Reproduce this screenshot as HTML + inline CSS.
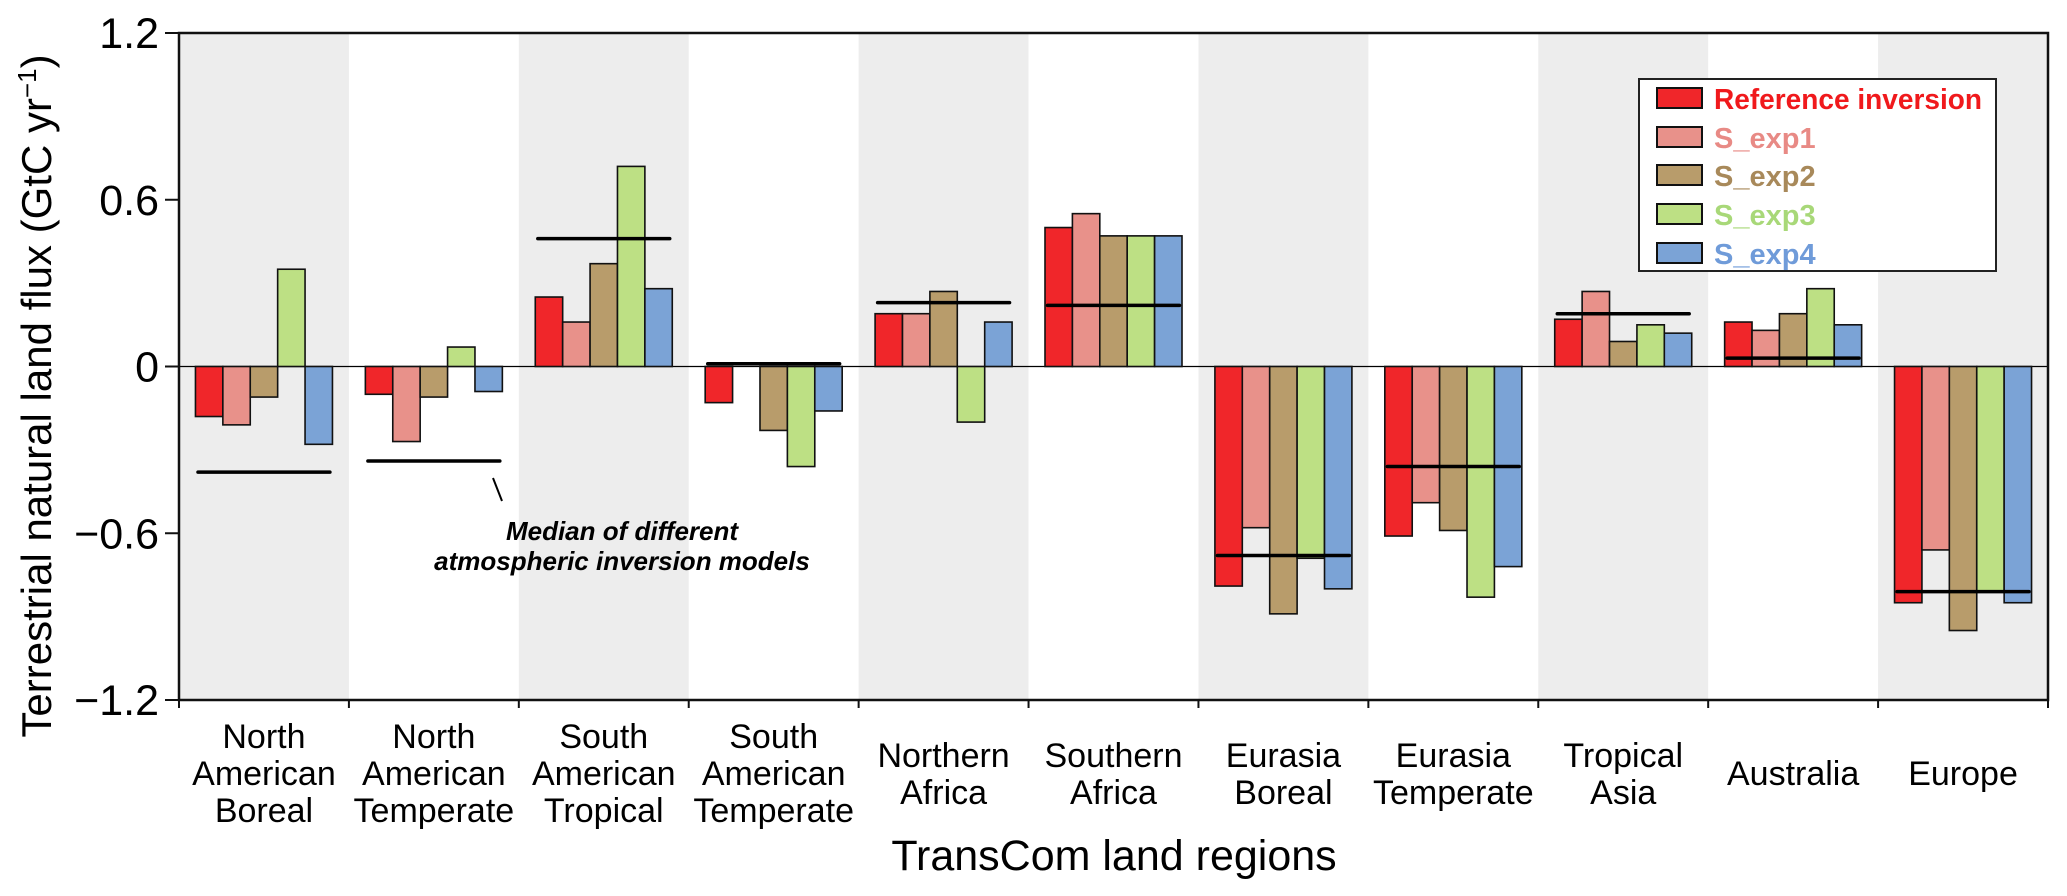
<!DOCTYPE html>
<html><head><meta charset="utf-8"><style>
html,body{margin:0;padding:0;background:#fff;}
svg{display:block;font-family:"Liberation Sans",Arial,sans-serif;}
</style></head><body>
<svg id="chart" width="2067" height="896" viewBox="0 0 2067 896" xmlns="http://www.w3.org/2000/svg"></svg>
<script>
const categories = [
  ["North","American","Boreal"],["North","American","Temperate"],["South","American","Tropical"],
  ["South","American","Temperate"],["Northern","Africa"],["Southern","Africa"],
  ["Eurasia","Boreal"],["Eurasia","Temperate"],["Tropical","Asia"],["Australia"],["Europe"]];
const seriesNames = ["Reference inversion","S_exp1","S_exp2","S_exp3","S_exp4"];
const refInversion = [-0.18,-0.10,0.25,-0.13,0.19,0.50,-0.79,-0.61,0.17,0.16,-0.85];
const sExp1 = [-0.21,-0.27,0.16,0.00,0.19,0.55,-0.58,-0.49,0.27,0.13,-0.66];
const sExp2 = [-0.11,-0.11,0.37,-0.23,0.27,0.47,-0.89,-0.59,0.09,0.19,-0.95];
const sExp3 = [0.35,0.07,0.72,-0.36,-0.20,0.47,-0.69,-0.83,0.15,0.28,-0.81];
const sExp4 = [-0.28,-0.09,0.28,-0.16,0.16,0.47,-0.80,-0.72,0.12,0.15,-0.85];
const medians = [-0.38,-0.34,0.46,0.01,0.23,0.22,-0.68,-0.36,0.19,0.03,-0.81];
const yTicks = [1.2,0.6,0,-0.6,-1.2];
const yTickLabels = ["1.2","0.6","0","\u22120.6","\u22121.2"];

const fills = ["#f0262a","#e8918a","#b89c6b","#bde084","#7ba3d6"];
const allSeries = [refInversion,sExp1,sExp2,sExp3,sExp4];
const X0=179, X1=2048, Y_TOP=33, Y_BOT=700, VMAX=1.2, VMIN=-1.2;
const bandW=(X1-X0)/categories.length, barW=27.4;
function y(v){return Y_TOP+(VMAX-v)/(VMAX-VMIN)*(Y_BOT-Y_TOP);}
function xBand(i){return X0+i*bandW;}
const svg=document.getElementById('chart');
const NS="http://www.w3.org/2000/svg";
function el(tag,attrs,parent){const e=document.createElementNS(NS,tag);for(const k in attrs)e.setAttribute(k,attrs[k]);(parent||svg).appendChild(e);return e;}

categories.forEach((c,i)=>{ if(i%2===0){
  const r=el('rect',{x:xBand(i),y:Y_TOP,width:bandW,height:Y_BOT-Y_TOP,fill:'#ededed'});
  
  
}});
const z=el('line',{x1:X0,x2:X1,y1:y(0),y2:y(0),stroke:'#000','stroke-width':1.3});


allSeries.forEach((s,si)=>{
  s.forEach((v,i)=>{
    const bx=xBand(i)+(bandW-5*barW)/2+si*barW;
    const y0=y(Math.max(v,0)), h=Math.abs(y(v)-y(0));
    const r=el('rect',{x:bx,y:y0,width:barW,height:h,fill:fills[si],stroke:'#111','stroke-width':1.6});
    
    
  });
});
medians.forEach((m,i)=>{
  const l=el('line',{x1:xBand(i)+19,x2:xBand(i)+bandW-19,y1:y(m),y2:y(m),stroke:'#000','stroke-width':3.5,'stroke-linecap':'round'});
  
  
});
const f=el('rect',{x:X0,y:Y_TOP,width:X1-X0,height:Y_BOT-Y_TOP,fill:'none',stroke:'#111','stroke-width':2.5});


yTicks.forEach((t,i)=>{
  el('line',{x1:X0-14,x2:X0,y1:y(t),y2:y(t),stroke:'#111','stroke-width':2});
  const tx=el('text',{x:X0-20,y:y(t)+15,'font-size':43,'text-anchor':'end',fill:'#000'});
  tx.textContent=yTickLabels[i];
  
  
});
for(let i=0;i<=categories.length;i++){
  el('line',{x1:xBand(i),x2:xBand(i),y1:Y_BOT,y2:Y_BOT+8,stroke:'#111','stroke-width':2});
}
categories.forEach((c,i)=>{
  const t=el('text',{x:xBand(i)+bandW/2,'font-size':34,'text-anchor':'middle',fill:'#000'});
  
  
  const base = c.length===3?748:(c.length===2?767:785);
  c.forEach((w,k)=>{const ts=el('tspan',{x:xBand(i)+bandW/2,y:base+k*37},t);ts.textContent=w;});
});
</script>
<svg style="position:absolute;left:0;top:0" width="2067" height="896" xmlns="http://www.w3.org/2000/svg" font-family="'Liberation Sans',Arial,sans-serif">
  <text transform="translate(51,396) rotate(-90)" font-size="42" text-anchor="middle" fill="#000">Terrestrial natural land flux (GtC yr<tspan dy="-15" font-size="26">−1</tspan><tspan dy="15">)</tspan></text>
  <text x="1114" y="870" font-size="43" text-anchor="middle" fill="#000">TransCom land regions</text>
  <g>
    <line x1="493" y1="478" x2="502" y2="501" stroke="#000" stroke-width="2"/>
    <text x="622" y="540" font-size="26" font-weight="bold" font-style="italic" text-anchor="middle">Median of different</text>
    <text x="622" y="570" font-size="26" font-weight="bold" font-style="italic" text-anchor="middle">atmospheric inversion models</text>
  </g>
  <g>
    <rect x="1639" y="79" width="357" height="192" fill="#fff" stroke="#222" stroke-width="2"/>
    <rect x="1657" y="88" width="45" height="20" fill="#f0262a" stroke="#111" stroke-width="2"/>
    <rect x="1657" y="127" width="45" height="20" fill="#e8918a" stroke="#111" stroke-width="2"/>
    <rect x="1657" y="165" width="45" height="20" fill="#b89c6b" stroke="#111" stroke-width="2"/>
    <rect x="1657" y="204" width="45" height="20" fill="#bde084" stroke="#111" stroke-width="2"/>
    <rect x="1657" y="243" width="45" height="20" fill="#7ba3d6" stroke="#111" stroke-width="2"/>
    <g font-size="29" font-weight="bold">
      <text x="1714" y="109" fill="#f0191c" textLength="268" lengthAdjust="spacingAndGlyphs">Reference inversion</text>
      <text x="1714" y="148" fill="#e88a85">S_exp1</text>
      <text x="1714" y="186" fill="#a8895a">S_exp2</text>
      <text x="1714" y="225" fill="#a8d878">S_exp3</text>
      <text x="1714" y="264" fill="#6f9bd9">S_exp4</text>
    </g>
  </g>
</svg>
</body></html>
